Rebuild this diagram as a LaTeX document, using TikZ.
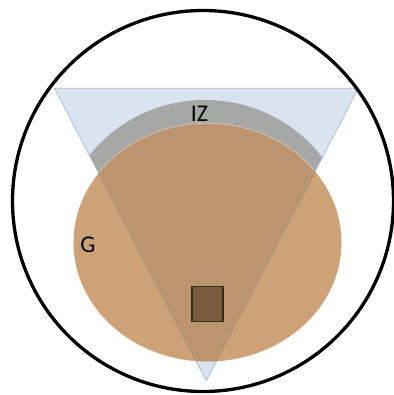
\documentclass[tikz,border=0pt]{standalone}
\usepackage{fontspec}
\setmainfont{Carlito}
\definecolor{triblue}{RGB}{218,227,240}
\definecolor{triedge}{RGB}{169,189,216}
\definecolor{izgray}{RGB}{165,168,165}
\definecolor{gorange}{RGB}{205,162,118}
\definecolor{gdark}{RGB}{189,148,112}
\definecolor{gedge}{RGB}{168,135,106}
\definecolor{boxfill}{RGB}{124,92,63}
\definecolor{boxedge}{RGB}{59,43,30}
\tikzset{
  lbl/.style={font=\fontsize{24}{28}\selectfont, text=black, inner sep=0pt},
}
\begin{document}
\begin{tikzpicture}[x=1pt,y=-1pt]
\useasboundingbox (0,0) rectangle (393,395);
% triangle
\coordinate (tl) at (54.5,88.3);
\coordinate (tr) at (358.3,88.3);
\coordinate (ap) at (206.3,380.7);
\fill[triblue] (tl) -- (tr) -- (ap) -- cycle;
% IZ band
\begin{scope}
  \clip (tl) -- (tr) -- (ap) -- cycle;
  \clip (0,0) rectangle (393,242);
  \fill[izgray] (205,242) ellipse [x radius=146, y radius=142];
\end{scope}
% G ellipse
\fill[gorange] (207.5,242.5) ellipse [x radius=134.2, y radius=119.2];
\begin{scope}
  \clip (tl) -- (tr) -- (ap) -- cycle;
  \fill[gdark] (207.5,242.5) ellipse [x radius=134.2, y radius=119.2];
\end{scope}
\draw[white, opacity=0.5, line width=0.6] (207.5,242.5) ellipse [x radius=134.2, y radius=119.2];
% triangle edges
\draw[triedge, line width=0.7] (tl) -- (tr) -- (ap) -- cycle;
\begin{scope}
  \clip (207.5,242.5) ellipse [x radius=134.2, y radius=119.2];
  \draw[gedge, line width=0.7] (tl) -- (ap) -- (tr);
\end{scope}
% box
\node[draw=boxedge, fill=boxfill, line width=1.6, minimum width=31, minimum height=35, inner sep=0, anchor=north west] (box) at (191,285.5) {};
% outer circle
\draw[black, line width=3.3] (203,201) circle [radius=190.5];
% labels
\node[lbl] (iz) at (199.5,113.5) {IZ};
\node[lbl] (g) at (88,244.5) {G};
\end{tikzpicture}
\end{document}
